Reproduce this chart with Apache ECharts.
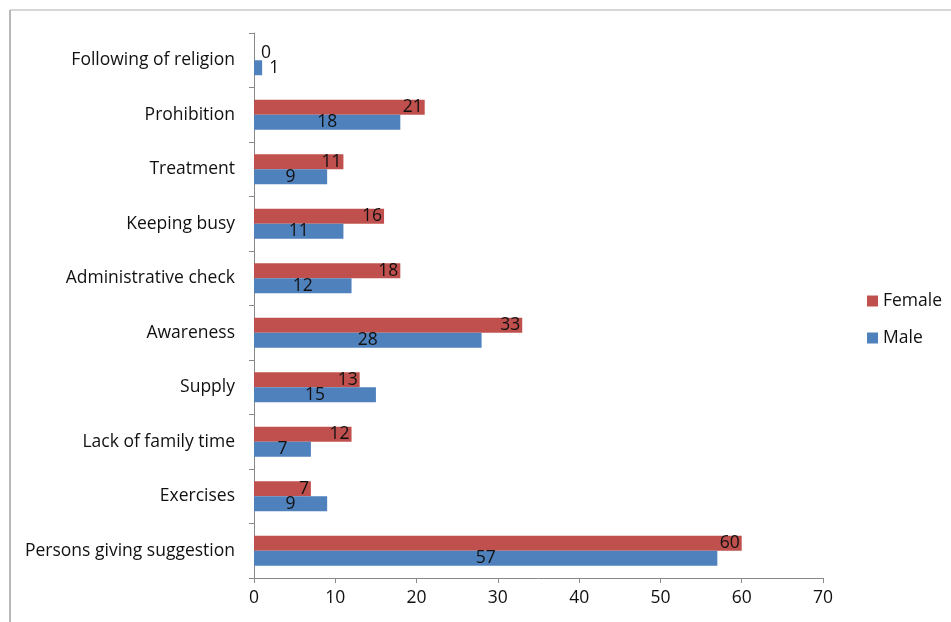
<!DOCTYPE html>
<html>
  <head>
    <meta charset="utf-8" />
    <title></title>
    <style>
      body {
        margin: 0;
        padding: 0;
        background: #fff;
      }
      #chart {
        width: 951px;
        height: 622px;
      }
    </style>
    <script src="https://cdn.jsdelivr.net/npm/echarts@6/dist/echarts.min.js"></script>
  </head>
  <body>
    <div id="chart"></div>
  </body>
  <script>
    // categories, bottom to top
    let categories = [
      "Persons giving suggestion",
      "Exercises",
      "Lack of family time",
      "Supply",
      "Awareness",
      "Administrative check",
      "Keeping busy",
      "Treatment",
      "Prohibition",
      "Following of religion",
    ];
    let male = [57, 9, 7, 15, 28, 12, 11, 9, 18, 1];
    let female = [60, 7, 12, 13, 33, 18, 16, 11, 21, 0];
    let xTicks = [0, 10, 20, 30, 40, 50, 60, 70];

    const font = "'Open Sans', 'Noto Sans', sans-serif";
    const fs = 17.5;
    const axisColor = "#888888";

    // tiny bars get their number outside, like the original
    function toData(values, pos) {
      return values.map((v) => {
        if (v <= 2) {
          return { value: v, label: { position: "right", offset: [2, 0] } };
        }
        return { value: v, label: { position: pos } };
      });
    }

    let chart = echarts.init(document.getElementById("chart"));
    chart.setOption({
      animation: false,
      textStyle: { fontFamily: font },
      graphic: [
        {
          type: "line",
          shape: { x1: 10, y1: 10, x2: 951, y2: 10 },
          style: { stroke: "#c8c8c8", lineWidth: 1.5 },
        },
        {
          type: "line",
          shape: { x1: 10, y1: 10, x2: 10, y2: 622 },
          style: { stroke: "#a0a0a0", lineWidth: 1.5 },
        },
      ],
      grid: { left: 254, right: 128, top: 33, bottom: 44 },
      legend: {
        data: ["Female", "Male"],
        orient: "vertical",
        left: 862,
        top: 287,
        itemWidth: 11,
        itemHeight: 11,
        itemGap: 19,
        icon: "rect",
        textStyle: { fontSize: fs, color: "#111", fontFamily: font },
      },
      xAxis: {
        type: "value",
        min: 0,
        max: 70,
        interval: 10,
        splitLine: { show: false },
        axisLine: { show: true, lineStyle: { color: axisColor } },
        axisTick: { show: true, length: 5, lineStyle: { color: axisColor } },
        axisLabel: {
          fontSize: fs,
          color: "#111",
          margin: 11,
          formatter: (v) => (xTicks.includes(v) ? String(v) : ""),
        },
      },
      yAxis: {
        type: "category",
        data: categories,
        axisLine: { show: true, lineStyle: { color: axisColor } },
        axisTick: { show: true, length: 5, lineStyle: { color: axisColor } },
        axisLabel: { fontSize: fs, color: "#111", margin: 19 },
      },
      series: [
        {
          name: "Female",
          type: "bar",
          data: toData(female, "insideRight"),
          itemStyle: { color: "#C0504D" },
          barGap: "0%",
          barCategoryGap: "45%",
          label: { show: true, fontSize: fs, color: "#111", offset: [3, 0] },
        },
        {
          name: "Male",
          type: "bar",
          data: toData(male, "inside"),
          itemStyle: { color: "#4F81BD" },
          barGap: "0%",
          barCategoryGap: "45%",
          label: { show: true, fontSize: fs, color: "#111" },
        },
      ],
    });
  </script>
</html>
